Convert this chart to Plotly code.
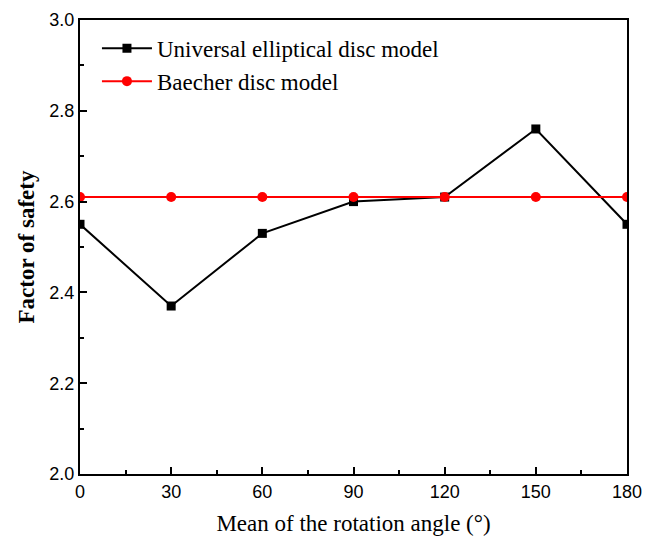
import plotly.graph_objects as go

angles = [0, 30, 60, 90, 120, 150, 180]
elliptical_fs = [2.55, 2.37, 2.53, 2.60, 2.61, 2.76, 2.55]
baecher_fs = [2.61, 2.61, 2.61, 2.61, 2.61, 2.61, 2.61]
x_ticks = [0, 30, 60, 90, 120, 150, 180]
y_ticks = [2.0, 2.2, 2.4, 2.6, 2.8, 3.0]

fig = go.Figure()
fig.add_trace(go.Scatter(
    x=angles, y=elliptical_fs, mode="lines+markers",
    name="Universal elliptical disc model",
    line=dict(color="black", width=2),
    marker=dict(symbol="square", size=9, color="black"),
))
fig.add_trace(go.Scatter(
    x=angles, y=baecher_fs, mode="lines+markers",
    name="Baecher disc model",
    line=dict(color="red", width=2),
    marker=dict(symbol="circle", size=10, color="red"),
))

axis_common = dict(
    showline=True, linecolor="black", linewidth=2, mirror=True,
    ticks="inside", ticklen=7, tickwidth=2, tickcolor="black",
    showgrid=False, zeroline=False, automargin=False,
    tickfont=dict(family="Liberation Sans, Arial", size=18, color="black"),
)

fig.update_xaxes(
    range=[0, 180], tickvals=x_ticks,
    title=dict(text="Mean of the rotation angle (°)",
               font=dict(family="Liberation Serif, Times New Roman", size=23, color="black"),
               standoff=14),
    minor=dict(ticks="inside", ticklen=4, tickwidth=2, tickcolor="black", dtick=15),
    **axis_common,
)
fig.update_yaxes(
    range=[2.0, 3.0], tickvals=y_ticks, tickformat=".1f",
    title=dict(text="<b>Factor of safety</b>",
               font=dict(family="Liberation Serif, Times New Roman", size=23, color="black"),
               standoff=8),
    minor=dict(ticks="inside", ticklen=4, tickwidth=2, tickcolor="black", dtick=0.1),
    **axis_common,
)

fig.update_layout(
    width=652, height=538,
    margin=dict(l=80, r=25, t=20, b=64),
    plot_bgcolor="white", paper_bgcolor="white",
    legend=dict(
        x=0.031, y=0.985, xanchor="left", yanchor="top",
        bgcolor="rgba(0,0,0,0)",
        font=dict(family="Liberation Serif, Times New Roman", size=23, color="black"),
        tracegroupgap=0, itemwidth=50,
    ),
)

fig.write_html("out.html")
